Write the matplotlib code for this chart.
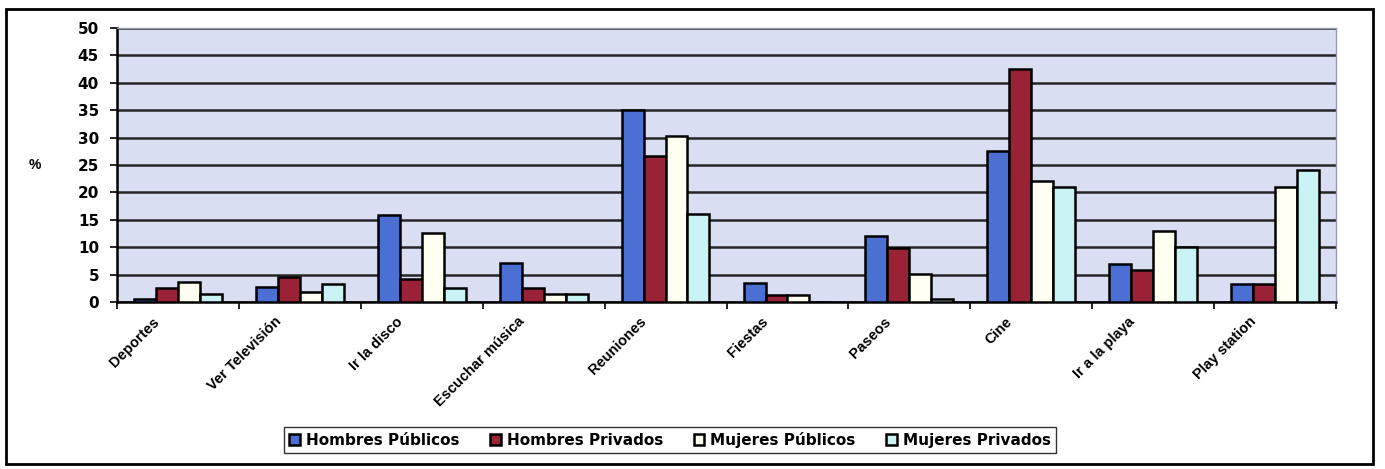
import matplotlib
matplotlib.use("Agg")
import matplotlib.pyplot as plt
from matplotlib.patches import Rectangle
import matplotlib.transforms as mtransforms
import numpy as np

categories = ["Deportes", "Ver Televisión", "Ir la disco", "Escuchar música", "Reuniones",
              "Fiestas", "Paseos", "Cine", "Ir a la playa", "Play station"]
hombres_publicos = [0.5, 2.7, 15.8, 7.2, 35.0, 3.4, 12.0, 27.5, 6.9, 3.3]
hombres_privados = [2.5, 4.6, 4.2, 2.6, 26.7, 1.2, 9.8, 42.5, 5.8, 3.3]
mujeres_publicos = [3.7, 1.8, 12.6, 1.5, 30.3, 1.3, 5.2, 22.0, 13.0, 21.0]
mujeres_privados = [1.5, 3.3, 2.5, 1.5, 16.0, 0.0, 0.5, 21.0, 10.0, 24.0]
series_names = ["Hombres Públicos", "Hombres Privados", "Mujeres Públicos", "Mujeres Privados"]
yticks = [0, 5, 10, 15, 20, 25, 30, 35, 40, 45, 50]

colors = ["#4b6fd2", "#9a2236", "#fffff2", "#c9f3f4"]
plt.rcParams['font.family'] = ['Liberation Sans', 'DejaVu Sans']

fig = plt.figure(figsize=(13.85, 4.69), dpi=100)
ax = fig.add_axes([117/1385, 1-302/469, (1336-117)/1385, (302-28)/469])
ax.set_facecolor("#dadef2")

series = [hombres_publicos, hombres_privados, mujeres_publicos, mujeres_privados]
x = np.arange(len(categories))
w = 0.18
for i, (vals, c, name) in enumerate(zip(series, colors, series_names)):
    ax.bar(x + (i - 1.5) * w, vals, width=w, color=c, edgecolor="black",
           linewidth=1.8, label=name, zorder=3)

ax.set_ylim(0, 50)
ax.set_xlim(-0.5, len(categories) - 0.5)
ax.set_yticks(yticks)
ax.set_yticklabels([str(t) for t in yticks], fontsize=11, fontweight='bold',
                   family=['DejaVu Sans'])
ax.yaxis.grid(True, color="#262626", linewidth=1.8, zorder=1)
ax.set_axisbelow(True)

ax.set_xticks(x)
ax.set_xticklabels(categories, rotation=45, ha='right', rotation_mode='anchor',
                   fontsize=10.5, fontweight='bold')
ax.tick_params(axis='x', length=0, pad=9)
offset = mtransforms.ScaledTranslation(-26/100, 0, fig.dpi_scale_trans)
for lbl in ax.get_xticklabels():
    lbl.set_transform(lbl.get_transform() + offset)
ax.set_xticks(np.arange(-0.5, len(categories)), minor=True)
ax.tick_params(axis='x', which='minor', length=5, width=1.2, color='black')
ax.tick_params(axis='y', length=5, width=1.2, pad=8)

for s in ["top", "right"]:
    ax.spines[s].set_color("#9a9aae")
    ax.spines[s].set_linewidth(1.0)
for s in ["left", "bottom"]:
    ax.spines[s].set_color("black")
    ax.spines[s].set_linewidth(1.8)

fig.text(35/1385, 1-165/469, "%", fontsize=10, fontweight='bold', ha='center', va='center')

leg = fig.legend(loc='center', bbox_to_anchor=(670/1385, 1-440/469), ncol=4,
                 prop={'family': ['DejaVu Sans'], 'size': 11, 'weight': 'bold'},
                 frameon=True, fancybox=False, edgecolor='black',
                 handlelength=0.7, handleheight=0.7, handletextpad=0.4,
                 columnspacing=2.0, borderpad=0.3)
leg.get_frame().set_linewidth(1.0)

fig.patches.append(Rectangle((6/1385, 5/469), (1373-6)/1385, (460-5)/469,
                             transform=fig.transFigure, fill=False,
                             edgecolor='black', linewidth=2.0))

fig.savefig("out.png", dpi=100, facecolor="white")
